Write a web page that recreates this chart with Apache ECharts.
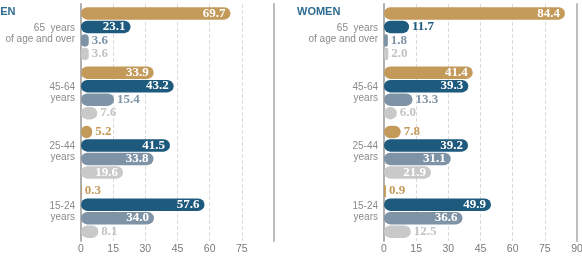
<!DOCTYPE html>
<html>
<head>
<meta charset="utf-8">
<script src="https://cdn.jsdelivr.net/npm/echarts@6/dist/echarts.min.js"></script>
<style>
  html, body { margin: 0; padding: 0; background: #fff; }
  #chart { width: 582px; height: 259px; }
</style>
</head>
<body>
<div id="chart"></div>
<script>
// age groups, top to bottom
var ageGroups = ['65  years\nof age and over', '45-64\nyears', '25-44\nyears', '15-24\nyears'];
var xTicks = [0, 15, 30, 45, 60, 75, 90];

// men, four bars per age group (top bar first)
var menOrange = [69.7, 33.9, 5.2, 0.3];
var menBlue = [23.1, 43.2, 41.5, 57.6];
var menSteel = [3.6, 15.4, 33.8, 34.0];
var menGrey = [3.6, 7.6, 19.6, 8.1];

// women
var womenOrange = [84.4, 41.4, 7.8, 0.9];
var womenBlue = [11.7, 39.3, 39.2, 49.9];
var womenSteel = [1.8, 13.3, 31.1, 36.6];
var womenGrey = [2.0, 6.0, 21.9, 12.5];

var barColors = ['#c49a5a', '#1e5a7d', '#7e93a6', '#c9c9c9'];
var outColors = ['#c49a5a', '#1e5a7d', '#7e93a6', '#c3c3c3'];

var chart = echarts.init(document.getElementById('chart'));

function makeData(values, k) {
  return values.map(function (v) {
    var inside = v >= 18;
    return {
      value: v,
      label: {
        position: inside ? 'insideRight' : 'right',
        distance: inside ? 5 : 3,
        color: inside ? '#fff' : outColors[k]
      }
    };
  });
}

function makeSeries(sets, gi) {
  return sets.map(function (vals, k) {
    return {
      type: 'bar',
      xAxisIndex: gi,
      yAxisIndex: gi * 2,
      barWidth: 12.5,
      barGap: '8%',
      itemStyle: { color: barColors[k], borderRadius: 6.25 },
      label: {
        show: true,
        fontFamily: 'Liberation Serif',
        fontWeight: 'bold',
        fontSize: 13,
        formatter: function (p) { return p.value.toFixed(1); }
      },
      data: makeData(vals, k)
    };
  });
}

function xAxisFor(gi, showMax) {
  return {
    type: 'value',
    gridIndex: gi,
    min: xTicks[0],
    max: xTicks[xTicks.length - 1],
    interval: 15,
    axisLine: { show: false },
    axisTick: { show: false },
    splitLine: { lineStyle: { type: 'dashed', color: '#dcdcdc' } },
    axisLabel: { color: '#7a7a7a', fontFamily: 'Liberation Sans', fontSize: 10.5, margin: 3, showMaxLabel: showMax }
  };
}

function yAxesFor(gi) {
  return [{
    type: 'category',
    gridIndex: gi,
    inverse: true,
    data: ageGroups,
    axisLine: { lineStyle: { color: '#b0b0b0', width: 2 } },
    axisTick: { show: false },
    axisLabel: { color: '#8a8a8a', fontFamily: 'Liberation Sans', fontSize: 10, lineHeight: 11, margin: 6, align: 'right' }
  }, {
    type: 'category',
    gridIndex: gi,
    position: 'right',
    inverse: true,
    data: ageGroups,
    axisLine: { lineStyle: { color: '#bdbdbd', width: 2 } },
    axisTick: { show: false },
    axisLabel: { show: false }
  }];
}

var option = {
  animation: false,
  title: [
    { text: 'MEN', left: -14, top: 1, textStyle: { color: '#2e6b93', fontFamily: 'Liberation Sans', fontWeight: 'bold', fontSize: 11 } },
    { text: 'WOMEN', left: 292, top: 1, textStyle: { color: '#2e6b93', fontFamily: 'Liberation Sans', fontWeight: 'bold', fontSize: 11 } }
  ],
  grid: [
    { left: 81, right: 308, top: 4, bottom: 18, outerBoundsMode: 'none' },
    { left: 384, right: 5, top: 4, bottom: 18, outerBoundsMode: 'none' }
  ],
  xAxis: [xAxisFor(0, false), xAxisFor(1, true)],
  yAxis: yAxesFor(0).concat(yAxesFor(1)),
  series: makeSeries([menOrange, menBlue, menSteel, menGrey], 0)
    .concat(makeSeries([womenOrange, womenBlue, womenSteel, womenGrey], 1))
};

chart.setOption(option);
</script>
</body>
</html>
